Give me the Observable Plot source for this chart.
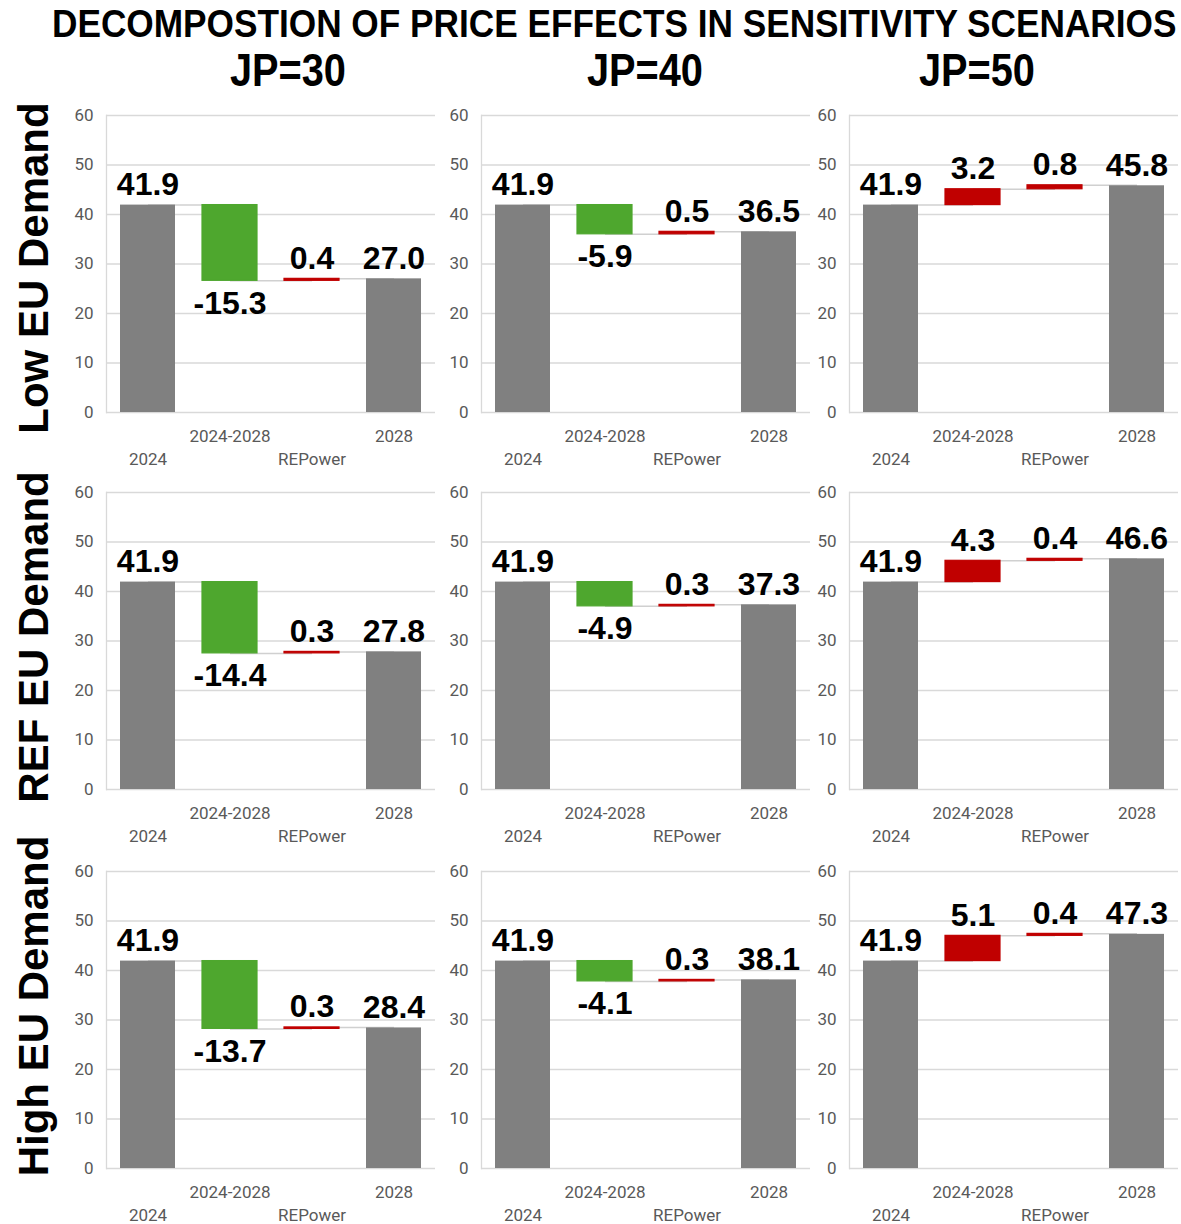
<!DOCTYPE html>
<html><head><meta charset="utf-8">
<script src="https://cdn.jsdelivr.net/npm/d3@7"></script>
<script src="https://cdn.jsdelivr.net/npm/@observablehq/plot@0.6"></script>
<style>
html,body{margin:0;padding:0;background:#fff}
body{width:1181px;height:1224px;overflow:hidden;position:relative;font-family:"Liberation Sans",Arial,sans-serif}
svg.panel{position:absolute}
</style></head><body>
<script>
// ---------- data ----------
const title = "DECOMPOSTION OF PRICE EFFECTS IN SENSITIVITY SCENARIOS";
const columns = ["JP=30", "JP=40", "JP=50"];
const rows = ["Low EU Demand", "REF EU Demand", "High EU Demand"];
const categories = ["2024", "2024-2028", "REPower", "2028"];
const yTicks = [0, 10, 20, 30, 40, 50, 60];
const price2024 = 41.9;
// rows: Low, REF, High ; columns: JP=30, JP=40, JP=50
const effect2024_2028 = [[-15.3, -5.9, 3.2], [-14.4, -4.9, 4.3], [-13.7, -4.1, 5.1]];
const effectREPower   = [[0.4, 0.5, 0.8],    [0.3, 0.3, 0.4],    [0.3, 0.3, 0.4]];
const price2028       = [[27.0, 36.5, 45.8], [27.8, 37.3, 46.6], [28.4, 38.1, 47.3]];

// ---------- layout ----------
const colors = {total: "#808080", down: "#4ea72e", up: "#c00000"};
const frameLeft = [106, 481, 849];
const frameTop = [115, 492, 871];
const M = {left: 56, right: 1, top: 16, bottom: 60};
const plotW = 329, plotH = 297;
const NS = "http://www.w3.org/2000/svg";

function overlay(x, y, w, h) {
  const s = document.createElementNS(NS, "svg");
  s.setAttribute("class", "panel");
  s.setAttribute("width", w); s.setAttribute("height", h);
  s.style.left = x + "px"; s.style.top = y + "px";
  document.body.append(s);
  return s;
}
function addText(svg, str, attrs) {
  const t = document.createElementNS(NS, "text");
  for (const k in attrs) t.setAttribute(k, attrs[k]);
  t.textContent = str;
  svg.append(t);
  return t;
}
// squeeze a text horizontally to a target width (condensed look)
function fitText(svg, str, x, baseline, width, size) {
  const t = addText(svg, str, {x: 0, y: 0, "font-size": size, "font-weight": "bold",
    "font-family": "'Liberation Sans',Arial,sans-serif", fill: "#000"});
  const w = t.getComputedTextLength();
  t.setAttribute("transform", `translate(${x},${baseline}) scale(${width / w},1)`);
  return t;
}

// title + column headers
const head = overlay(0, 0, 1181, 100);
fitText(head, title, 52, 37, 1125, 38);
const headerX = [288, 645, 977];
columns.forEach((c, i) => fitText(head, c, headerX[i] - 58, 86, 116, 46));

// row labels
const side = overlay(0, 90, 60, 1134);
const rowY = [268, 637, 1006];
rows.forEach((r, i) => addText(side, r, {transform: `translate(48,${rowY[i] - 90}) rotate(-90)`,
  "text-anchor": "middle", "font-size": 42, "font-weight": "bold",
  "font-family": "'Liberation Sans',Arial,sans-serif", fill: "#000"}));

// panels
rows.forEach((rowName, r) => {
  columns.forEach((colName, c) => {
    const e1 = effect2024_2028[r][c], e2 = effectREPower[r][c], end = price2028[r][c];
    const mid = price2024 + e1;
    const bars = [
      {cat: categories[0], y1: 0, y2: price2024, v: price2024, kind: "total"},
      {cat: categories[1], y1: price2024, y2: mid, v: e1, kind: e1 < 0 ? "down" : "up"},
      {cat: categories[2], y1: mid, y2: mid + e2, v: e2, kind: e2 < 0 ? "down" : "up"},
      {cat: categories[3], y1: 0, y2: end, v: end, kind: "total"}
    ];
    const links = [
      {a: categories[0], b: categories[1], y: price2024},
      {a: categories[1], b: categories[2], y: mid},
      {a: categories[2], b: categories[3], y: mid + e2}
    ];
    const chart = Plot.plot({
      width: M.left + plotW + M.right,
      height: M.top + plotH + M.bottom,
      marginLeft: M.left, marginRight: M.right, marginTop: M.top, marginBottom: M.bottom,
      style: {fontFamily: "Roboto, 'Liberation Sans', sans-serif", color: "#595959", background: "transparent", overflow: "visible"},
      x: {domain: categories, paddingInner: 0.33, paddingOuter: 0.165, axis: null},
      y: {domain: [0, 60], axis: null},
      color: {type: "identity"},
      marks: [
        Plot.gridY(yTicks, {stroke: "#d9d9d9", strokeOpacity: 1, strokeWidth: 1.3}),
        Plot.frame({anchor: "left", stroke: "#d9d9d9", strokeWidth: 1.3}),
        Plot.axisY(yTicks, {tickSize: 0, tickPadding: 13, fontSize: 17, fill: "#595959"}),
        Plot.link(links, {x1: "a", x2: "b", y1: "y", y2: "y", stroke: "#d0d0d0", strokeWidth: 1.5}),
        Plot.barY(bars, {x: "cat", y1: "y1", y2: "y2", fill: d => colors[d.kind],
          stroke: d => d.kind === "total" ? "none" : colors[d.kind], strokeWidth: 1.2}),
        Plot.text(bars.filter(d => d.v >= 0), {x: "cat", y: d => Math.max(d.y1, d.y2),
          text: d => d.v.toFixed(1), lineAnchor: "bottom", dy: -10, fontSize: 32, fontWeight: "bold",
          fill: "#000", fontFamily: "'Liberation Sans', Arial, sans-serif"}),
        Plot.text(bars.filter(d => d.v < 0), {x: "cat", y: d => Math.min(d.y1, d.y2),
          text: d => d.v.toFixed(1), lineAnchor: "top", dy: 10, fontSize: 32, fontWeight: "bold",
          fill: "#000", fontFamily: "'Liberation Sans', Arial, sans-serif"}),
        Plot.text(categories.filter((d, i) => i % 2 === 1), {x: d => d, frameAnchor: "bottom", dy: 29,
          fontSize: 17, fill: "#595959"}),
        Plot.text(categories.filter((d, i) => i % 2 === 0), {x: d => d, frameAnchor: "bottom", dy: 52,
          fontSize: 17, fill: "#595959"})
      ]
    });
    chart.classList.add("panel");
    chart.style.position = "absolute";
    chart.style.left = (frameLeft[c] - M.left) + "px";
    chart.style.top = (frameTop[r] - M.top) + "px";
    document.body.append(chart);
  });
});
</script>
</body></html>
